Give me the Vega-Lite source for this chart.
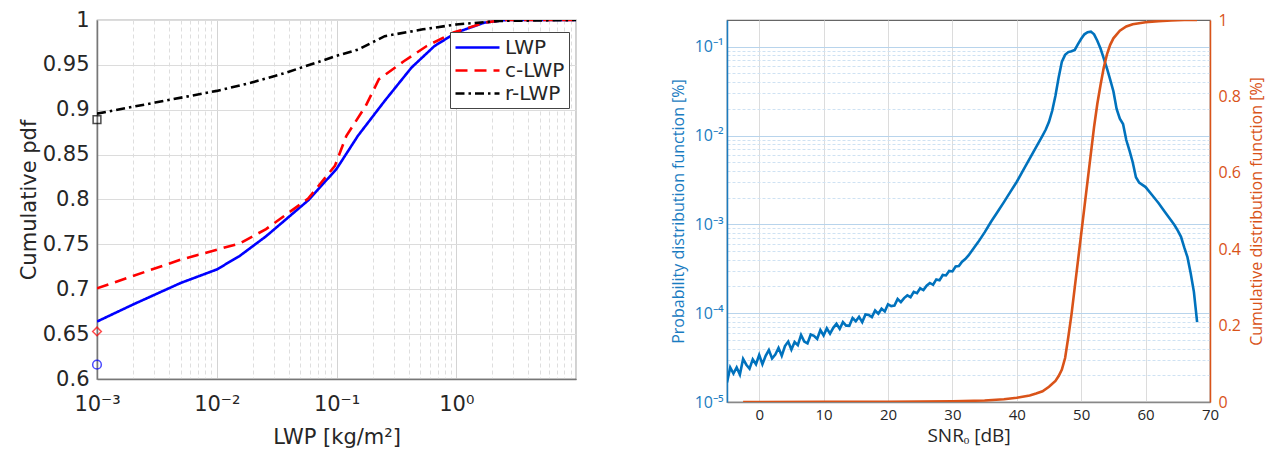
{
  "$schema": "https://vega.github.io/schema/vega-lite/v6.json",
  "padding": {"left": 17, "top": 8, "right": 2, "bottom": 2},
  "background": "white",
  "bounds": "flush",
  "spacing": 151,
  "datasets": {
    "lwp": [
      {"series": "LWP", "x": 0.001, "y": 0.664},
      {"series": "LWP", "x": 0.002, "y": 0.683},
      {"series": "LWP", "x": 0.005, "y": 0.707},
      {"series": "LWP", "x": 0.01, "y": 0.722},
      {"series": "LWP", "x": 0.0155, "y": 0.737},
      {"series": "LWP", "x": 0.0258, "y": 0.759},
      {"series": "LWP", "x": 0.058, "y": 0.799},
      {"series": "LWP", "x": 0.1, "y": 0.834},
      {"series": "LWP", "x": 0.151, "y": 0.871},
      {"series": "LWP", "x": 0.253, "y": 0.91},
      {"series": "LWP", "x": 0.423, "y": 0.947},
      {"series": "LWP", "x": 0.658, "y": 0.971},
      {"series": "LWP", "x": 1.0, "y": 0.986},
      {"series": "LWP", "x": 1.71, "y": 0.997},
      {"series": "LWP", "x": 2.6, "y": 1.0},
      {"series": "LWP", "x": 10, "y": 1.0},
      {"series": "c-LWP", "x": 0.001, "y": 0.701},
      {"series": "c-LWP", "x": 0.005, "y": 0.733},
      {"series": "c-LWP", "x": 0.0155, "y": 0.751},
      {"series": "c-LWP", "x": 0.0258, "y": 0.767},
      {"series": "c-LWP", "x": 0.058, "y": 0.801},
      {"series": "c-LWP", "x": 0.097, "y": 0.8375},
      {"series": "c-LWP", "x": 0.121, "y": 0.871},
      {"series": "c-LWP", "x": 0.175, "y": 0.904},
      {"series": "c-LWP", "x": 0.226, "y": 0.934},
      {"series": "c-LWP", "x": 0.365, "y": 0.954},
      {"series": "c-LWP", "x": 0.567, "y": 0.971},
      {"series": "c-LWP", "x": 0.95, "y": 0.986},
      {"series": "c-LWP", "x": 1.71, "y": 0.997},
      {"series": "c-LWP", "x": 2.5, "y": 1.0},
      {"series": "c-LWP", "x": 10, "y": 1.0},
      {"series": "r-LWP", "x": 0.001, "y": 0.8957},
      {"series": "r-LWP", "x": 0.00306, "y": 0.908},
      {"series": "r-LWP", "x": 0.01, "y": 0.921},
      {"series": "r-LWP", "x": 0.0192, "y": 0.93},
      {"series": "r-LWP", "x": 0.0373, "y": 0.941},
      {"series": "r-LWP", "x": 0.1, "y": 0.96},
      {"series": "r-LWP", "x": 0.151, "y": 0.967},
      {"series": "r-LWP", "x": 0.253, "y": 0.982},
      {"series": "r-LWP", "x": 0.527, "y": 0.9896},
      {"series": "r-LWP", "x": 1.0, "y": 0.995},
      {"series": "r-LWP", "x": 2.3, "y": 0.999},
      {"series": "r-LWP", "x": 10, "y": 1.0}
    ],
    "zeros": [
      {"series": "LWP", "x": 0.001, "y": 0.616},
      {"series": "c-LWP", "x": 0.001, "y": 0.653},
      {"series": "r-LWP", "x": 0.001, "y": 0.889}
    ],
    "pdf": [
      {"snr": -5.0, "pdf": 1.66e-5}, {"snr": -4.5, "pdf": 2.45e-5}, {"snr": -4.0, "pdf": 2.09e-5}, {"snr": -3.5, "pdf": 2.45e-5},
      {"snr": -3.0, "pdf": 2.04e-5}, {"snr": -2.5, "pdf": 3.05e-5}, {"snr": -2.0, "pdf": 2.63e-5}, {"snr": -1.5, "pdf": 2.37e-5},
      {"snr": -1.0, "pdf": 3.02e-5}, {"snr": -0.5, "pdf": 2.66e-5}, {"snr": 0.0, "pdf": 3.39e-5}, {"snr": 0.5, "pdf": 2.66e-5},
      {"snr": 1.0, "pdf": 3.31e-5}, {"snr": 1.5, "pdf": 3.85e-5}, {"snr": 2.0, "pdf": 3.09e-5}, {"snr": 2.5, "pdf": 3.43e-5},
      {"snr": 3.0, "pdf": 4.07e-5}, {"snr": 3.5, "pdf": 3.31e-5}, {"snr": 4.0, "pdf": 4.27e-5}, {"snr": 4.5, "pdf": 4.79e-5},
      {"snr": 5.0, "pdf": 3.89e-5}, {"snr": 5.5, "pdf": 4.73e-5}, {"snr": 6.0, "pdf": 4.37e-5}, {"snr": 6.5, "pdf": 5.69e-5},
      {"snr": 7.0, "pdf": 4.79e-5}, {"snr": 7.5, "pdf": 4.57e-5}, {"snr": 8.0, "pdf": 5.75e-5}, {"snr": 8.5, "pdf": 5.56e-5},
      {"snr": 9.0, "pdf": 5.13e-5}, {"snr": 9.5, "pdf": 6.46e-5}, {"snr": 10.0, "pdf": 5.62e-5}, {"snr": 10.5, "pdf": 6.76e-5},
      {"snr": 11.0, "pdf": 5.89e-5}, {"snr": 11.5, "pdf": 6.84e-5}, {"snr": 12.0, "pdf": 7.59e-5}, {"snr": 12.5, "pdf": 6.68e-5},
      {"snr": 13.0, "pdf": 7.94e-5}, {"snr": 13.5, "pdf": 7.24e-5}, {"snr": 14.0, "pdf": 7.24e-5}, {"snr": 14.5, "pdf": 8.81e-5},
      {"snr": 15.0, "pdf": 8.13e-5}, {"snr": 15.5, "pdf": 9.12e-5}, {"snr": 16.0, "pdf": 7.94e-5}, {"snr": 16.5, "pdf": 9.66e-5},
      {"snr": 17.0, "pdf": 9.55e-5}, {"snr": 17.5, "pdf": 9.02e-5}, {"snr": 18.0, "pdf": 1.072e-4}, {"snr": 18.5, "pdf": 9.89e-5},
      {"snr": 19.0, "pdf": 1.122e-4}, {"snr": 19.5, "pdf": 1.047e-4}, {"snr": 20.0, "pdf": 1.259e-4}, {"snr": 20.5, "pdf": 1.202e-4},
      {"snr": 21.0, "pdf": 1.216e-4}, {"snr": 21.5, "pdf": 1.445e-4}, {"snr": 22.0, "pdf": 1.334e-4}, {"snr": 22.5, "pdf": 1.479e-4},
      {"snr": 23.0, "pdf": 1.585e-4}, {"snr": 23.5, "pdf": 1.514e-4}, {"snr": 24.0, "pdf": 1.738e-4}, {"snr": 24.5, "pdf": 1.679e-4},
      {"snr": 25.0, "pdf": 1.905e-4}, {"snr": 25.5, "pdf": 1.820e-4}, {"snr": 26.0, "pdf": 2.042e-4}, {"snr": 26.5, "pdf": 2.188e-4},
      {"snr": 27.0, "pdf": 2.089e-4}, {"snr": 27.5, "pdf": 2.399e-4}, {"snr": 28.0, "pdf": 2.344e-4}, {"snr": 28.5, "pdf": 2.692e-4},
      {"snr": 29.0, "pdf": 2.661e-4}, {"snr": 29.5, "pdf": 2.985e-4}, {"snr": 30.0, "pdf": 2.951e-4}, {"snr": 30.5, "pdf": 3.350e-4},
      {"snr": 31.0, "pdf": 3.388e-4}, {"snr": 31.5, "pdf": 3.80e-4}, {"snr": 32.0, "pdf": 4.07e-4}, {"snr": 32.5, "pdf": 4.47e-4},
      {"snr": 33.0, "pdf": 5.01e-4}, {"snr": 33.5, "pdf": 5.62e-4}, {"snr": 34.0, "pdf": 6.31e-4}, {"snr": 35.0, "pdf": 8.13e-4},
      {"snr": 36.0, "pdf": 1.07e-3}, {"snr": 37.0, "pdf": 1.38e-3}, {"snr": 38.0, "pdf": 1.78e-3}, {"snr": 39.0, "pdf": 2.32e-3},
      {"snr": 40.0, "pdf": 3.02e-3}, {"snr": 41.0, "pdf": 4.07e-3}, {"snr": 42.0, "pdf": 5.50e-3}, {"snr": 43.0, "pdf": 7.41e-3},
      {"snr": 44.0, "pdf": 1.0e-2}, {"snr": 44.5, "pdf": 1.17e-2}, {"snr": 45.0, "pdf": 1.43e-2}, {"snr": 45.5, "pdf": 1.9e-2},
      {"snr": 46.0, "pdf": 2.8e-2}, {"snr": 46.5, "pdf": 4.5e-2}, {"snr": 47.0, "pdf": 6.8e-2}, {"snr": 47.5, "pdf": 8.1e-2},
      {"snr": 48.0, "pdf": 8.7e-2}, {"snr": 48.5, "pdf": 8.9e-2}, {"snr": 49.0, "pdf": 9.2e-2}, {"snr": 49.5, "pdf": 0.107},
      {"snr": 50.0, "pdf": 0.123}, {"snr": 50.5, "pdf": 0.138}, {"snr": 51.0, "pdf": 0.146}, {"snr": 51.5, "pdf": 0.148},
      {"snr": 52.0, "pdf": 0.138}, {"snr": 52.5, "pdf": 0.117}, {"snr": 53.0, "pdf": 0.0955}, {"snr": 53.5, "pdf": 0.0741},
      {"snr": 54.0, "pdf": 0.0569}, {"snr": 54.5, "pdf": 0.0427}, {"snr": 55.0, "pdf": 0.0316}, {"snr": 55.5, "pdf": 0.01995},
      {"snr": 56.0, "pdf": 0.01549}, {"snr": 56.5, "pdf": 0.01349}, {"snr": 57.0, "pdf": 0.00891}, {"snr": 57.5, "pdf": 0.00676},
      {"snr": 58.0, "pdf": 0.00501}, {"snr": 58.5, "pdf": 0.00339}, {"snr": 59.0, "pdf": 0.00295}, {"snr": 60.0, "pdf": 0.00263},
      {"snr": 61.0, "pdf": 0.00214}, {"snr": 62.0, "pdf": 0.00174}, {"snr": 63.0, "pdf": 0.00138}, {"snr": 64.0, "pdf": 0.001096},
      {"snr": 64.5, "pdf": 0.000977}, {"snr": 65.0, "pdf": 0.000851}, {"snr": 65.5, "pdf": 0.000724}, {"snr": 66.0, "pdf": 0.00055},
      {"snr": 66.5, "pdf": 0.000427}, {"snr": 67.0, "pdf": 0.000282}, {"snr": 67.5, "pdf": 0.000174}, {"snr": 68.0, "pdf": 0.0000794}
    ],
    "cdf": [
      {"snr": -2.5, "cdf": 0}, {"snr": 0, "cdf": 0}, {"snr": 10, "cdf": 0.0002}, {"snr": 20, "cdf": 0.0008},
      {"snr": 30, "cdf": 0.002}, {"snr": 35, "cdf": 0.004}, {"snr": 38, "cdf": 0.007}, {"snr": 40, "cdf": 0.011},
      {"snr": 42, "cdf": 0.017}, {"snr": 43, "cdf": 0.022}, {"snr": 44, "cdf": 0.028}, {"snr": 45, "cdf": 0.04},
      {"snr": 46, "cdf": 0.055}, {"snr": 46.5, "cdf": 0.068}, {"snr": 47, "cdf": 0.085}, {"snr": 47.5, "cdf": 0.115},
      {"snr": 48, "cdf": 0.17}, {"snr": 48.5, "cdf": 0.23}, {"snr": 49, "cdf": 0.3}, {"snr": 49.5, "cdf": 0.37},
      {"snr": 50, "cdf": 0.44}, {"snr": 50.5, "cdf": 0.51}, {"snr": 51, "cdf": 0.58}, {"snr": 51.5, "cdf": 0.65},
      {"snr": 52, "cdf": 0.72}, {"snr": 52.5, "cdf": 0.78}, {"snr": 53, "cdf": 0.83}, {"snr": 53.5, "cdf": 0.875},
      {"snr": 54, "cdf": 0.91}, {"snr": 54.5, "cdf": 0.935}, {"snr": 55, "cdf": 0.952}, {"snr": 56, "cdf": 0.972},
      {"snr": 57, "cdf": 0.983}, {"snr": 58, "cdf": 0.989}, {"snr": 60, "cdf": 0.994}, {"snr": 62, "cdf": 0.997},
      {"snr": 64, "cdf": 0.999}, {"snr": 66, "cdf": 1.0}, {"snr": 68, "cdf": 1.0}
    ]
  },
  "hconcat": [
    {
      "width": 479,
      "height": 359,
      "layer": [
        {
          "data": {"name": "lwp"},
          "mark": {"type": "line", "strokeWidth": 2.6, "clip": true},
          "encoding": {
            "x": {
              "field": "x", "type": "quantitative",
              "scale": {"type": "log", "domain": [0.001, 10], "nice": false},
              "axis": {
                "title": "LWP [kg/m²]",
                "values": [0.001,0.002,0.003,0.004,0.005,0.006,0.007,0.008,0.009,0.01,0.02,0.03,0.04,0.05,0.06,0.07,0.08,0.09,0.1,0.2,0.3,0.4,0.5,0.6,0.7,0.8,0.9,1,2,3,4,5,6,7,8,9,10],
                "labelExpr": "abs(log(datum.value)/LN10 - round(log(datum.value)/LN10)) > 0.000001 ? '' : round(log(datum.value)/LN10) == -3 ? '10⁻³' : round(log(datum.value)/LN10) == -2 ? '10⁻²' : round(log(datum.value)/LN10) == -1 ? '10⁻¹' : round(log(datum.value)/LN10) == 0 ? '10⁰' : ''",
                "labelOverlap": false,
                "labelFlush": false,
                "labelFont": "DejaVu Sans", "titleFont": "DejaVu Sans",
                "labelFontSize": 21, "titleFontSize": 21,
                "labelColor": "#262626", "titleColor": "#262626",
                "labelPadding": 14, "titlePadding": 12,
                "grid": true,
                "gridColor": {"condition": {"test": "abs(log(datum.value)/LN10 - round(log(datum.value)/LN10)) < 0.000001", "value": "#d4d4d4"}, "value": "#dedede"},
                "gridDash": {"condition": {"test": "abs(log(datum.value)/LN10 - round(log(datum.value)/LN10)) < 0.000001", "value": []}, "value": [4, 3]},
                "ticks": false,
                "domainColor": "#777", "domainWidth": 1.5
              }
            },
            "y": {
              "field": "y", "type": "quantitative",
              "scale": {"domain": [0.6, 1], "nice": false, "zero": false},
              "axis": {
                "title": "Cumulative pdf",
                "values": [0.6,0.65,0.7,0.75,0.8,0.85,0.9,0.95,1],
                "format": "~g",
                "labelFont": "DejaVu Sans", "titleFont": "DejaVu Sans",
                "labelFontSize": 21, "titleFontSize": 21,
                "labelColor": "#262626", "titleColor": "#262626",
                "labelPadding": 8, "titlePadding": 3,
                "grid": true, "gridColor": "#dcdcdc",
                "ticks": false,
                "domainColor": "#777", "domainWidth": 1.5
              }
            },
            "color": {
              "field": "series", "type": "nominal",
              "scale": {"domain": ["LWP", "c-LWP", "r-LWP"], "range": ["#0000ff", "#ff0000", "#000000"]},
              "legend": {"orient": "none", "legendX": 353, "legendY": 12, "title": null, "symbolType": "M-1,0H3.4", "symbolSize": 400, "symbolStrokeWidth": 2.6, "labelFont": "DejaVu Sans", "labelFontSize": 20, "labelColor": "#262626", "strokeColor": "#444", "fillColor": "white", "padding": 4, "rowPadding": 1, "labelOffset": 28}
            },
            "strokeDash": {
              "field": "series", "type": "nominal",
              "scale": {"domain": ["LWP", "c-LWP", "r-LWP"], "range": [[1, 0], [12, 7], [9, 4, 2.5, 4]]},
              "legend": {"orient": "none", "legendX": 353, "legendY": 12, "title": null, "symbolType": "M-1,0H3.4", "symbolSize": 400, "symbolStrokeWidth": 2.6, "labelFont": "DejaVu Sans", "labelFontSize": 20, "labelColor": "#262626", "strokeColor": "#444", "fillColor": "white", "padding": 4, "rowPadding": 1, "labelOffset": 28}
            }
          }
        },
        {
          "data": {"name": "zeros"},
          "transform": [{"filter": "datum.series == 'LWP'"}],
          "mark": {"type": "point", "shape": "circle", "filled": false, "color": "#0000ff", "strokeWidth": 1.5, "size": 75, "clip": false},
          "encoding": {
            "x": {"field": "x", "type": "quantitative"},
            "y": {"field": "y", "type": "quantitative"}
          }
        },
        {
          "data": {"name": "zeros"},
          "transform": [{"filter": "datum.series == 'c-LWP'"}],
          "mark": {"type": "point", "shape": "diamond", "filled": false, "color": "#ff0000", "strokeWidth": 1.5, "size": 75, "clip": false},
          "encoding": {
            "x": {"field": "x", "type": "quantitative"},
            "y": {"field": "y", "type": "quantitative"}
          }
        },
        {
          "data": {"name": "zeros"},
          "transform": [{"filter": "datum.series == 'r-LWP'"}],
          "mark": {"type": "point", "shape": "square", "filled": false, "color": "#000000", "strokeWidth": 1.5, "size": 60, "clip": false},
          "encoding": {
            "x": {"field": "x", "type": "quantitative"},
            "y": {"field": "y", "type": "quantitative"}
          }
        }
      ]
    },
    {
      "width": 483,
      "height": 382,
      "layer": [
        {
          "data": {"name": "pdf"},
          "mark": {"type": "line", "color": "#0072BD", "strokeWidth": 2.6, "clip": true},
          "encoding": {
            "x": {
              "field": "snr", "type": "quantitative",
              "scale": {"domain": [-5, 70], "nice": false, "zero": false},
              "axis": {
                "title": "SNRₒ [dB]",
                "values": [0, 10, 20, 30, 40, 50, 60, 70],
                "labelFlush": false,
                "labelFont": "Open Sans", "titleFont": "Open Sans",
                "labelFontSize": 15, "titleFontSize": 19,
                "labelColor": "#262626", "titleColor": "#262626",
                "labelPadding": 5, "titlePadding": 4,
                "grid": true, "gridColor": "#dcdcdc",
                "ticks": false,
                "domainColor": "#888", "domainWidth": 1.5
              }
            },
            "y": {
              "field": "pdf", "type": "quantitative",
              "scale": {"type": "log", "domain": [0.00001, 0.2], "nice": false},
              "axis": {
                "orient": "left",
                "title": "Probability distribution function [%]",
                "values": [0.00001,0.00002,0.00003,0.00004,0.00005,0.00006,0.00007,0.00008,0.00009,0.0001,0.0002,0.0003,0.0004,0.0005,0.0006,0.0007,0.0008,0.0009,0.001,0.002,0.003,0.004,0.005,0.006,0.007,0.008,0.009,0.01,0.02,0.03,0.04,0.05,0.06,0.07,0.08,0.09,0.1],
                "labelExpr": "abs(log(datum.value)/LN10 - round(log(datum.value)/LN10)) > 0.000001 ? '' : round(log(datum.value)/LN10) == -5 ? '10⁻⁵' : round(log(datum.value)/LN10) == -4 ? '10⁻⁴' : round(log(datum.value)/LN10) == -3 ? '10⁻³' : round(log(datum.value)/LN10) == -2 ? '10⁻²' : round(log(datum.value)/LN10) == -1 ? '10⁻¹' : ''",
                "labelOverlap": false,
                "labelFont": "Open Sans", "titleFont": "Open Sans",
                "labelFontSize": 16, "titleFontSize": 16,
                "labelColor": "#1a7cc1", "titleColor": "#1a7cc1",
                "labelPadding": 4, "titlePadding": 8,
                "grid": true,
                "gridColor": {"condition": {"test": "abs(log(datum.value)/LN10 - round(log(datum.value)/LN10)) < 0.000001", "value": "#b8d4ec"}, "value": "#cfe2f3"},
                "gridDash": {"condition": {"test": "abs(log(datum.value)/LN10 - round(log(datum.value)/LN10)) < 0.000001", "value": []}, "value": [3, 2]},
                "ticks": false,
                "domainColor": "#1a7cc1", "domainWidth": 1.5
              }
            }
          }
        },
        {
          "data": {"name": "cdf"},
          "mark": {"type": "line", "color": "#D95319", "strokeWidth": 2.6, "clip": true},
          "encoding": {
            "x": {"field": "snr", "type": "quantitative"},
            "y": {
              "field": "cdf", "type": "quantitative",
              "scale": {"domain": [0, 1], "nice": false},
              "axis": {
                "orient": "right",
                "title": "Cumulative distribution function [%]",
                "titleAngle": 270,
                "titleBaseline": "top",
                "values": [0, 0.2, 0.4, 0.6, 0.8, 1],
                "format": "~g",
                "labelFont": "Open Sans", "titleFont": "Open Sans",
                "labelFontSize": 16, "titleFontSize": 16,
                "labelColor": "#D95319", "titleColor": "#D95319",
                "labelPadding": 8, "titlePadding": 8,
                "grid": false,
                "ticks": false,
                "domainColor": "#D95319", "domainWidth": 1.5
              }
            }
          }
        }
      ],
      "resolve": {"scale": {"y": "independent"}}
    }
  ],
  "config": {
    "view": {"stroke": "#666", "strokeWidth": 1.2},
    "axis": {"titleFontWeight": "normal"}
  }
}
